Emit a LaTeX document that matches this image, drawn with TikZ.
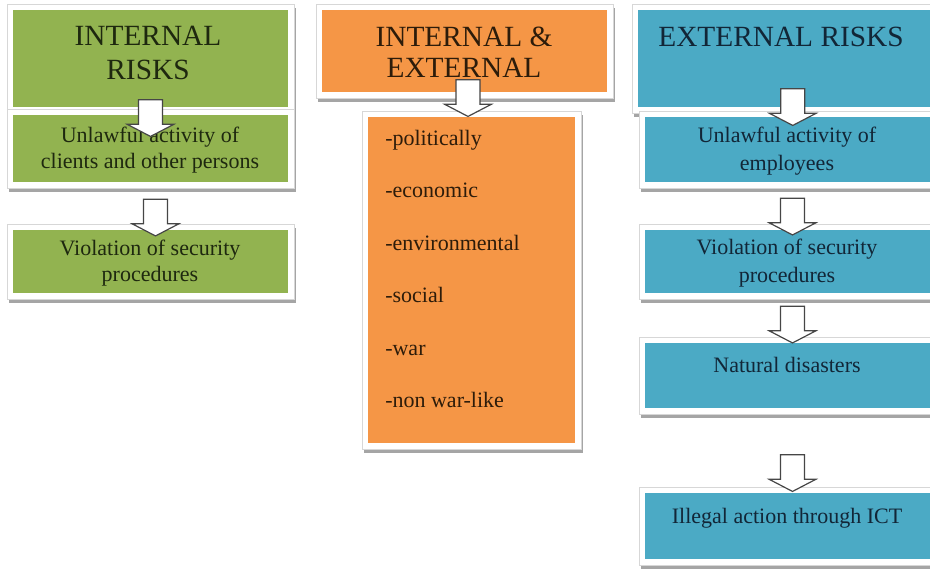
\documentclass[tikz,border=0pt]{standalone}
\usepackage{fontspec}
\setmainfont{Liberation Serif}
\usetikzlibrary{shapes.arrows,fit,backgrounds,calc}
\definecolor{gfill}{RGB}{146,179,80}
\definecolor{ofill}{RGB}{245,150,70}
\definecolor{bfill}{RGB}{75,170,197}
\definecolor{gtext}{RGB}{30,40,15}
\definecolor{otext}{RGB}{45,28,10}
\definecolor{btext}{RGB}{18,38,55}
\definecolor{shadowc}{RGB}{165,165,165}
\definecolor{framec}{RGB}{215,215,215}
\definecolor{arrowc}{RGB}{70,70,70}
\newcommand\riskframe[1]{%
  \fill[shadowc] ([shift={(-4,-2)}]#1.north west) rectangle ([shift={(8,10)}]#1.south east);
  \filldraw[fill=white,draw=framec,line width=0.4pt] ([shift={(-6,-6)}]#1.north west) rectangle ([shift={(6,6)}]#1.south east);
}
\tikzset{
  riskbox/.style={inner sep=0pt, outer sep=0pt},
  gbox/.style={riskbox, fill=gfill},
  obox/.style={riskbox, fill=ofill},
  bbox/.style={riskbox, fill=bfill},
  title/.style={align=center, inner sep=0pt, font=\fontsize{22}{25.5}\selectfont},
  body/.style={align=center, inner sep=0pt, font=\fontsize{16.5}{20}\selectfont},
  item/.style={anchor=base west, inner sep=0pt, text=otext, font=\fontsize{16.5}{20}\selectfont},
  downarrow/.style={single arrow, draw=arrowc, fill=white, line width=0.9pt,
    rotate=-90, minimum height=27.5pt, inner xsep=0pt, inner ysep=8.5pt,
    single arrow head extend=8.5pt, single arrow tip angle=125}
}
\begin{document}
\begin{tikzpicture}[x=0.75pt,y=-0.75pt]
\useasboundingbox (0,0) rectangle (930,568);
\clip (0,0) rectangle (930,568);
% ---------- boxes ----------
\node[gbox, fit={(13,10)(288,107)}] (g1) {};
\node[gbox, fit={(13,115)(288,182)}] (g2) {};
\node[gbox, fit={(13,230)(288,293)}] (g3) {};
\node[obox, fit={(322,10)(607,92)}] (o1) {};
\node[obox, fit={(368,117)(575,443)}] (o2) {};
\node[bbox, fit={(638,10)(936,107)}] (b1) {};
\node[bbox, fit={(645,117)(936,182)}] (b2) {};
\node[bbox, fit={(645,230)(936,293)}] (b3) {};
\node[bbox, fit={(645,343)(936,408)}] (b4) {};
\node[bbox, fit={(645,493)(936,559)}] (b5) {};
\begin{scope}[on background layer]
  \riskframe{g1}\riskframe{g2}\riskframe{g3}
  \riskframe{o1}\riskframe{o2}
  \riskframe{b1}\riskframe{b2}\riskframe{b3}\riskframe{b4}\riskframe{b5}
\end{scope}
% ---------- texts ----------
\node[title,text=gtext] (g1t) at (148,53) {INTERNAL\\RISKS};
\node[body,text=gtext] (g2t) at (150,150) {Unlawful activity of\\clients and other persons};
\node[body,text=gtext] (g3t) at (150,263) {Violation of security\\procedures};
\node[title,text=otext,font=\fontsize{22}{23}\selectfont] (o1t) at (464,52) {INTERNAL \&\\EXTERNAL};
\node[item] (i1) at (385,145) {-politically};
\node[item] (i2) at (385,197.5) {-economic};
\node[item] (i3) at (385,250) {-environmental};
\node[item] (i4) at (385,302.5) {-social};
\node[item] (i5) at (385,355) {-war};
\node[item] (i6) at (385,407.5) {-non war-like};
\node[title,text=btext] (b1t) at (781,37) {EXTERNAL RISKS};
\node[body,text=btext,font=\fontsize{16.5}{21}\selectfont] (b2t) at (787,151) {Unlawful activity of\\employees};
\node[body,text=btext,font=\fontsize{16.5}{21}\selectfont] (b3t) at (787,263) {Violation of security\\procedures};
\node[body,text=btext] (b4t) at (787,365) {Natural disasters};
\node[body,text=btext] (b5t) at (787,518) {Illegal action through ICT};
% ---------- arrows ----------
\node[downarrow] (ag1) at ($(g1.south)!0.5!(g2.north)+(0,4)$) {};
\node[downarrow] (ag2) at ($(g2.south)!0.5!(g3.north)+(5,8.5)$) {};
\node[downarrow] (ao1) at ($(o1.south)!0.5!(o2.north)+(0,-9.5)$) {};
\node[downarrow] (ab1) at ($(b1.south)!0.5!(b2.north)+(4,-8)$) {};
\node[downarrow] (ab2) at ($(b2.south)!0.5!(b3.north)+(2,7.5)$) {};
\node[downarrow] (ab3) at ($(b3.south)!0.5!(b4.north)+(2,3.5)$) {};
\node[downarrow] (ab4) at ($(b4.south)!0.5!(b5.north)+(2,19.5)$) {};
\end{tikzpicture}
\end{document}
